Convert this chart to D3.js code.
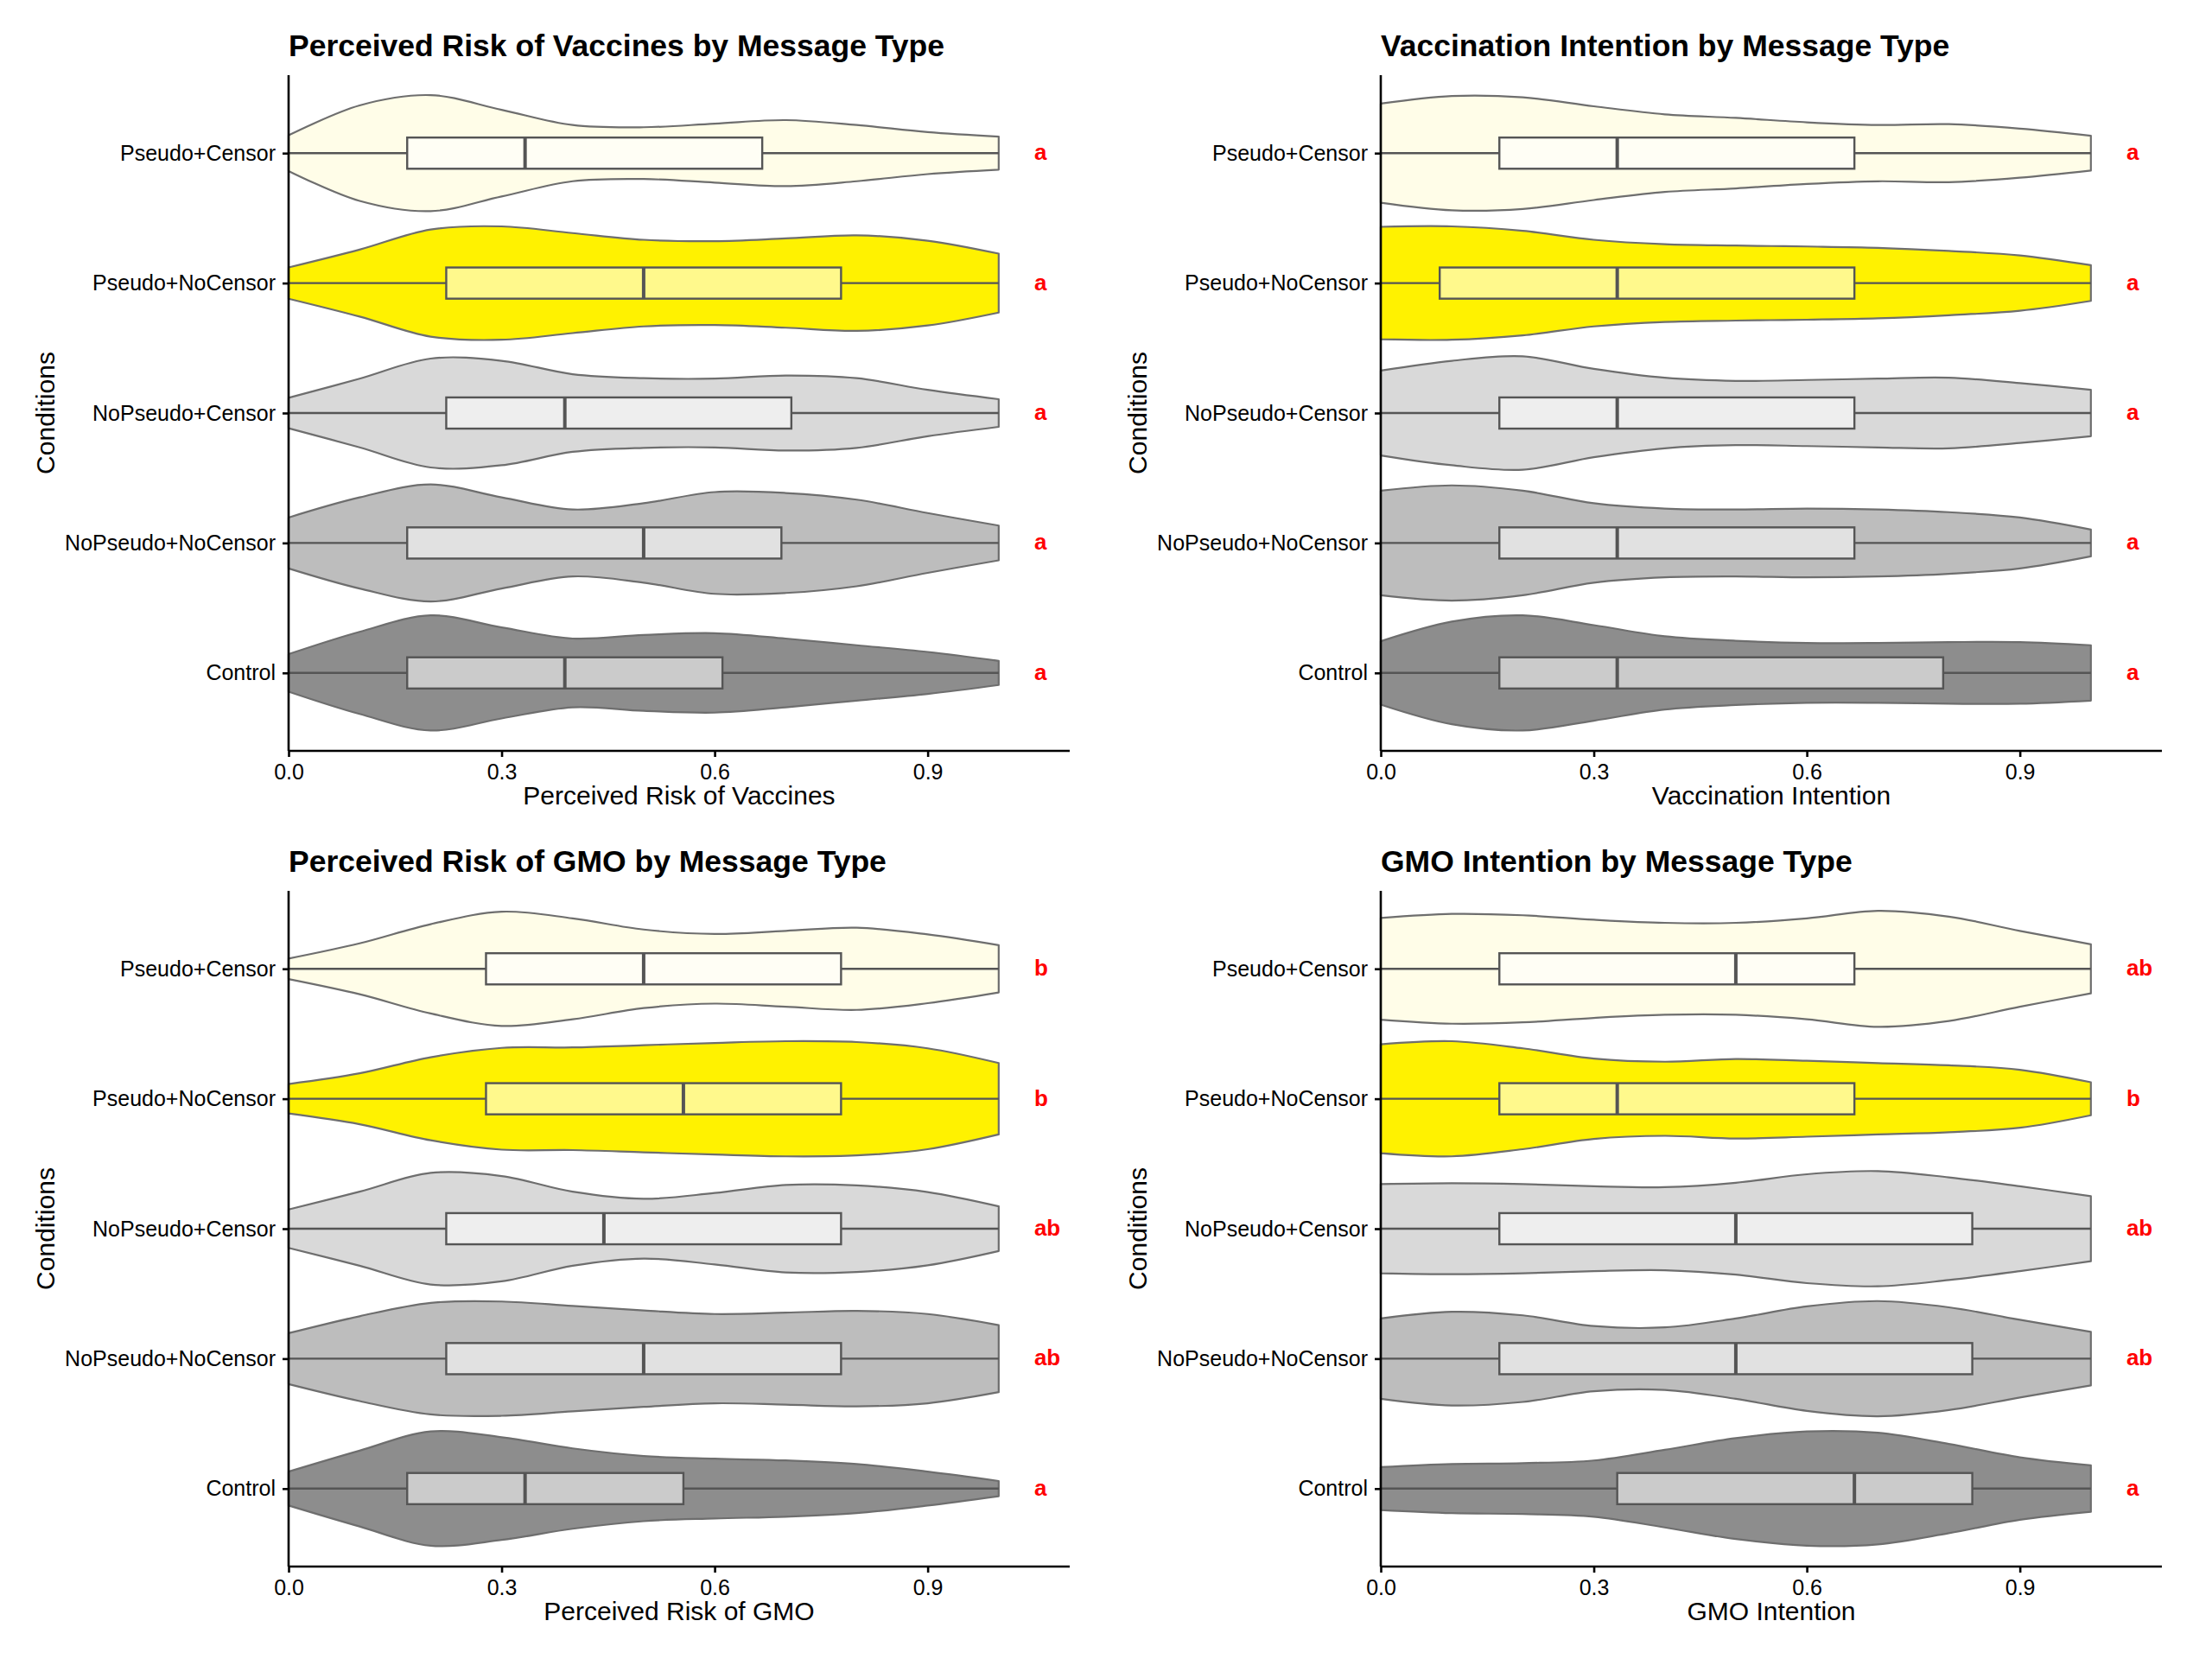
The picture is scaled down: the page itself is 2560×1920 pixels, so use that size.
<!DOCTYPE html>
<html>
<head>
<meta charset="utf-8">
<script src="https://cdn.jsdelivr.net/npm/d3@7"></script>
<style>
  html, body { margin: 0; padding: 0; background: #ffffff; }
  svg { display: block; }
</style>
</head>
<body>
<svg id="chart" width="2560" height="1920"></svg>
<script>
// ---------- DATA ----------
const categories = ["Pseudo+Censor", "Pseudo+NoCensor", "NoPseudo+Censor", "NoPseudo+NoCensor", "Control"];
const fillColors = ["#FFFDE8", "#FFF200", "#D9D9D9", "#BDBDBD", "#8D8D8D"];
const panelTitles = ["Perceived Risk of Vaccines by Message Type", "Vaccination Intention by Message Type",
                     "Perceived Risk of GMO by Message Type", "GMO Intention by Message Type"];
const xTitles = ["Perceived Risk of Vaccines", "Vaccination Intention", "Perceived Risk of GMO", "GMO Intention"];
const yTitle = "Conditions";
const xTicks = [0, 0.3, 0.6, 0.9];
const xTickLabels = ["0.0", "0.3", "0.6", "0.9"];
// positions (response scale) at which the violin half-widths were read
const densityGrid = [0, 0.1, 0.2, 0.3, 0.4, 0.5, 0.6, 0.7, 0.8, 0.9, 1.0];

// violin half-widths (relative density, peak ~131) per category, per panel
const violinRiskVaccine = [
  [40, 107, 130, 97, 63, 58, 66, 74, 63, 47, 37],
  [35, 75, 120, 127, 112, 97, 94, 100, 107, 95, 66],
  [34, 77, 122, 117, 87, 78, 77, 84, 78, 52, 31],
  [57, 102, 131, 102, 75, 89, 114, 112, 97, 67, 39],
  [42, 92, 129, 102, 77, 85, 89, 77, 62, 47, 27]
];
const violinVaxIntention = [
  [111, 128, 125, 105, 87, 79, 69, 63, 65, 55, 39],
  [126, 127, 117, 97, 87, 84, 82, 79, 72, 62, 40],
  [95, 117, 127, 99, 79, 72, 74, 77, 79, 67, 52],
  [117, 129, 117, 89, 77, 75, 77, 75, 69, 57, 30],
  [71, 115, 129, 107, 82, 72, 67, 67, 69, 69, 62]
];
const violinRiskGMO = [
  [23, 57, 100, 128, 113, 88, 78, 85, 92, 77, 53],
  [33, 57, 93, 114, 115, 120, 125, 129, 127, 113, 80],
  [43, 83, 125, 118, 83, 67, 80, 98, 97, 82, 50],
  [57, 95, 125, 128, 118, 108, 100, 103, 107, 100, 75],
  [38, 85, 128, 115, 90, 73, 67, 63, 55, 38, 17]
];
const violinGMOIntention = [
  [114, 123, 120, 110, 103, 103, 113, 130, 117, 85, 55],
  [122, 129, 113, 90, 83, 89, 85, 80, 75, 65, 37],
  [100, 102, 100, 95, 93, 103, 122, 129, 115, 95, 73],
  [90, 105, 97, 73, 70, 90, 117, 129, 115, 87, 60],
  [48, 55, 57, 63, 87, 113, 128, 125, 100, 70, 52]
];

// box plot statistics per category (order as categories)
const whiskerLow  = [0, 0, 0, 0, 0];
const whiskerHigh = [1, 1, 1, 1, 1];

const q1RiskVaccine     = [0.167, 0.222, 0.222, 0.167, 0.167];
const medianRiskVaccine = [0.333, 0.500, 0.389, 0.500, 0.389];
const q3RiskVaccine     = [0.667, 0.778, 0.708, 0.694, 0.611];

const q1VaxIntention     = [0.167, 0.083, 0.167, 0.167, 0.167];
const medianVaxIntention = [0.333, 0.333, 0.333, 0.333, 0.333];
const q3VaxIntention     = [0.667, 0.667, 0.667, 0.667, 0.792];

const q1RiskGMO     = [0.278, 0.278, 0.222, 0.222, 0.167];
const medianRiskGMO = [0.500, 0.556, 0.444, 0.500, 0.333];
const q3RiskGMO     = [0.778, 0.778, 0.778, 0.778, 0.556];

const q1GMOIntention     = [0.167, 0.167, 0.167, 0.167, 0.333];
const medianGMOIntention = [0.500, 0.333, 0.500, 0.500, 0.667];
const q3GMOIntention     = [0.667, 0.667, 0.833, 0.833, 0.833];

// significance letters
const lettersRiskVaccine  = ["a", "a", "a", "a", "a"];
const lettersVaxIntention = ["a", "a", "a", "a", "a"];
const lettersRiskGMO      = ["b", "b", "ab", "ab", "a"];
const lettersGMOIntention = ["ab", "b", "ab", "ab", "a"];
const letterPosition = 1.05;

// ---------- PANELS ----------
const panels = [
  { title: panelTitles[0], xTitle: xTitles[0], violin: violinRiskVaccine, q1: q1RiskVaccine, med: medianRiskVaccine, q3: q3RiskVaccine, letters: lettersRiskVaccine, col: 0, row: 0 },
  { title: panelTitles[1], xTitle: xTitles[1], violin: violinVaxIntention, q1: q1VaxIntention, med: medianVaxIntention, q3: q3VaxIntention, letters: lettersVaxIntention, col: 1, row: 0 },
  { title: panelTitles[2], xTitle: xTitles[2], violin: violinRiskGMO, q1: q1RiskGMO, med: medianRiskGMO, q3: q3RiskGMO, letters: lettersRiskGMO, col: 0, row: 1 },
  { title: panelTitles[3], xTitle: xTitles[3], violin: violinGMOIntention, q1: q1GMOIntention, med: medianGMOIntention, q3: q3GMOIntention, letters: lettersGMOIntention, col: 1, row: 1 }
];

const FONT = "'Liberation Sans', Arial, Helvetica, sans-serif";
const colLeft = [334, 1598];
const rowTop = [87, 1031];
const plotW = 904;
const plotH = 782;

const svg = d3.select("#chart");
svg.append("rect").attr("width", 2560).attr("height", 1920).attr("fill", "#ffffff");

panels.forEach(p => {
  const left = colLeft[p.col], top = rowTop[p.row];
  const g = svg.append("g").attr("transform", `translate(${left},${top})`);

  const x = d3.scaleLinear().domain([0, 1.1]).range([0, plotW]);
  const y = d3.scalePoint().domain(categories).range([0, plotH]).padding(0.6);
  const band = y.step();
  const w = d3.scaleLinear().domain([0, 131]).range([0, 0.45 * band]);
  const boxH = 0.24 * band;

  categories.forEach((cat, i) => {
    const cy = y(cat);
    const pts = densityGrid.map((gx, k) => ({ gx, v: p.violin[i][k] }));
    const area = d3.area()
      .x(d => x(d.gx))
      .y0(d => cy - w(d.v))
      .y1(d => cy + w(d.v))
      .curve(d3.curveCatmullRom.alpha(0.5));
    g.append("path")
      .attr("d", area(pts))
      .attr("fill", fillColors[i])
      .attr("stroke", "#6E6E6E")
      .attr("stroke-width", 2.2)
      .attr("stroke-linejoin", "round");

    // whiskers
    g.append("line")
      .attr("x1", x(whiskerLow[i])).attr("x2", x(p.q1[i]))
      .attr("y1", cy).attr("y2", cy)
      .attr("stroke", "#555555").attr("stroke-width", 2.4);
    g.append("line")
      .attr("x1", x(p.q3[i])).attr("x2", x(whiskerHigh[i]))
      .attr("y1", cy).attr("y2", cy)
      .attr("stroke", "#555555").attr("stroke-width", 2.4);
    // box
    g.append("rect")
      .attr("x", x(p.q1[i])).attr("width", x(p.q3[i]) - x(p.q1[i]))
      .attr("y", cy - boxH / 2).attr("height", boxH)
      .attr("fill", "#ffffff").attr("fill-opacity", 0.55)
      .attr("stroke", "#555555").attr("stroke-width", 2.4);
    // median
    g.append("line")
      .attr("x1", x(p.med[i])).attr("x2", x(p.med[i]))
      .attr("y1", cy - boxH / 2).attr("y2", cy + boxH / 2)
      .attr("stroke", "#555555").attr("stroke-width", 4);
    // letters
    g.append("text")
      .attr("x", x(letterPosition)).attr("y", cy + 8)
      .attr("text-anchor", "start")
      .attr("font-family", FONT).attr("font-weight", "bold")
      .attr("font-size", 26).attr("fill", "#FF0000")
      .text(p.letters[i]);
  });

  // axes
  const xAxis = d3.axisBottom(x).tickValues(xTicks)
    .tickFormat((d, i) => xTickLabels[i]).tickSize(7).tickPadding(8).tickSizeOuter(0);
  const gx = g.append("g").attr("transform", `translate(0,${plotH})`).call(xAxis);
  gx.select(".domain").attr("stroke", "#000").attr("stroke-width", 2.6).attr("d", `M0,0H${plotW}`);
  gx.selectAll(".tick line").attr("stroke", "#000").attr("stroke-width", 2.6);
  gx.selectAll(".tick text").attr("font-family", FONT).attr("font-size", 25).attr("fill", "#000");

  const yAxis = d3.axisLeft(y).tickSize(7).tickPadding(8).tickSizeOuter(0);
  const gy = g.append("g").call(yAxis);
  gy.select(".domain").attr("stroke", "#000").attr("stroke-width", 2.6).attr("d", `M0,0V${plotH}`);
  gy.selectAll(".tick line").attr("stroke", "#000").attr("stroke-width", 2.6);
  gy.selectAll(".tick text").attr("font-family", FONT).attr("font-size", 25).attr("fill", "#000");

  // titles
  g.append("text")
    .attr("x", 0).attr("y", -22)
    .attr("font-family", FONT).attr("font-weight", "bold").attr("font-size", 35.5)
    .attr("fill", "#000").text(p.title);
  g.append("text")
    .attr("x", plotW / 2).attr("y", plotH + 62)
    .attr("text-anchor", "middle")
    .attr("font-family", FONT).attr("font-size", 30).attr("fill", "#000")
    .text(p.xTitle);
  g.append("text")
    .attr("transform", `translate(${-281 + 10},${plotH / 2}) rotate(-90)`)
    .attr("text-anchor", "middle")
    .attr("font-family", FONT).attr("font-size", 30).attr("fill", "#000")
    .text(yTitle);
});
</script>
</body>
</html>
